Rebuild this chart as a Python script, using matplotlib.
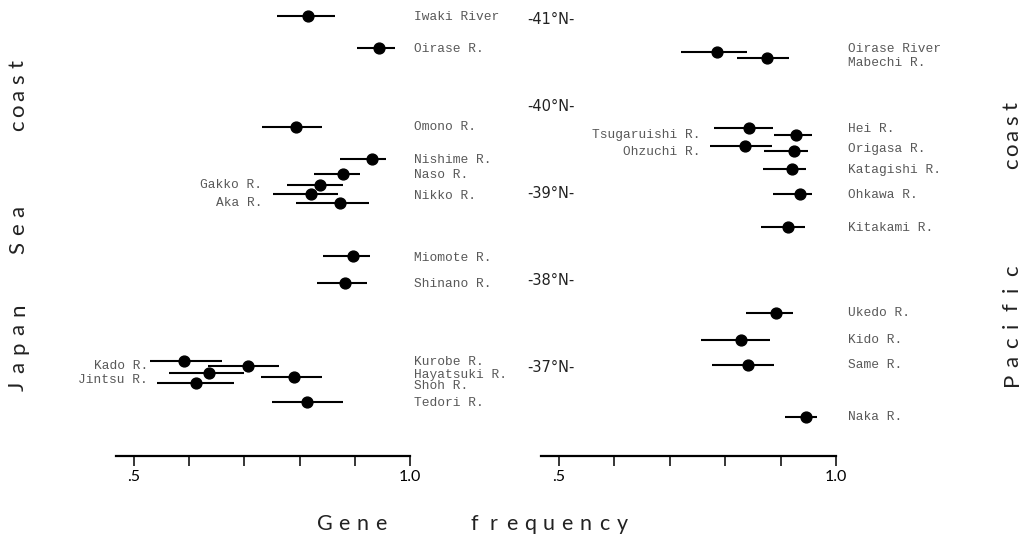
import numpy as np
import matplotlib
matplotlib.use("Agg")
import matplotlib.pyplot as plt
from matplotlib.transforms import blended_transform_factory

# Sea of Japan coast rivers
jp_names = ["Iwaki River", "Oirase R.", "Omono R.", "Nishime R.", "Naso R.",
            "Gakko R.", "Nikko R.", "Aka R.", "Miomote R.", "Shinano R.",
            "Kado R.", "Kurobe R.", "Hayatsuki R.", "Shoh R.", "Jintsu R.", "Tedori R."]
jp_freq = [0.815, 0.944, 0.793, 0.931, 0.879, 0.837, 0.821, 0.873, 0.897, 0.882,
           0.591, 0.707, 0.636, 0.790, 0.612, 0.813]
jp_lo = [0.759, 0.904, 0.732, 0.873, 0.826, 0.777, 0.752, 0.793, 0.842, 0.832,
         0.529, 0.634, 0.563, 0.730, 0.542, 0.750]
jp_hi = [0.864, 0.973, 0.841, 0.957, 0.909, 0.879, 0.870, 0.926, 0.928, 0.922,
         0.659, 0.763, 0.699, 0.841, 0.681, 0.879]
jp_lat = [41.03, 40.67, 39.76, 39.40, 39.22, 39.10, 38.99, 38.89, 38.28, 37.97,
          37.08, 37.02, 36.94, 36.89, 36.83, 36.61]

# Pacific coast rivers
pa_names = ["Oirase River", "Mabechi R.", "Hei R.", "Tsugaruishi R.", "Origasa R.",
            "Ohzuchi R.", "Katagishi R.", "Ohkawa R.", "Kitakami R.", "Ukedo R.",
            "Kido R.", "Same R.", "Naka R."]
pa_freq = [0.785, 0.875, 0.843, 0.928, 0.836, 0.924, 0.921, 0.935, 0.913, 0.892,
           0.829, 0.841, 0.946]
pa_lo = [0.720, 0.821, 0.780, 0.888, 0.773, 0.870, 0.868, 0.886, 0.865, 0.838,
         0.756, 0.776, 0.908]
pa_hi = [0.839, 0.915, 0.886, 0.957, 0.884, 0.949, 0.946, 0.957, 0.944, 0.922,
         0.881, 0.888, 0.966]
pa_lat = [40.62, 40.55, 39.75, 39.67, 39.54, 39.49, 39.28, 38.99, 38.62, 37.63,
          37.32, 37.03, 36.44]

lat_ticks = [41, 40, 39, 38, 37]
x_ticks = [0.5, 0.6, 0.7, 0.8, 0.9, 1.0]
x_ticklabels = [".5", "", "", "", "", "1.0"]

# where each name is written (latitude of the text line), and which side
jp_text_lat = [41.02, 40.66, 39.76, 39.38, 39.21, 39.10, 38.97, 38.89, 38.26, 37.96,
               37.02, 37.07, 36.92, 36.79, 36.86, 36.60]
jp_left = {"Gakko R.": 0.732, "Aka R.": 0.732, "Kado R.": 0.525, "Jintsu R.": 0.525}
pa_text_lat = [40.655, 40.50, 39.74, 39.67, 39.51, 39.48, 39.27, 38.98, 38.60, 37.63,
               37.32, 37.03, 36.44]
pa_left = {"Tsugaruishi R.": 0.755, "Ohzuchi R.": 0.755}

W, H = 1026, 535
fig = plt.figure(figsize=(W / 100, H / 100), dpi=100)

mono = "Liberation Mono"
sans = "Lato"
txt_col = "#585858"
ylim = (35.99, 41.218)


def panel(x0, x1, names, freq, lo, hi, lat, text_lat, left, right_x):
    ax = fig.add_axes([x0 / W, 1 - 456 / H, (x1 - x0) / W, 456 / H])
    ax.set_xlim(0.4674, 1.0)
    ax.set_ylim(*ylim)
    freq = np.array(freq)
    err = [freq - np.array(lo), np.array(hi) - freq]
    ax.errorbar(freq, lat, xerr=err, fmt="o", color="black", ms=7.8,
                elinewidth=1.5, capsize=0, clip_on=False)
    for n, tl in zip(names, text_lat):
        if n in left:
            ax.text(left[n], tl, n, ha="right", va="center", family=mono,
                    fontsize=9.3, color=txt_col, clip_on=False)
        else:
            ax.text(right_x, tl, n, ha="left", va="center", family=mono,
                    fontsize=9.3, color=txt_col, clip_on=False)
    for s in ["top", "left", "right"]:
        ax.spines[s].set_visible(False)
    ax.spines["bottom"].set_linewidth(1.6)
    ax.set_yticks([])
    ax.set_xticks(x_ticks)
    ax.set_xticklabels(x_ticklabels, fontsize=11.5, family=sans)
    ax.tick_params(axis="x", direction="out", length=7, width=1.1, pad=3)
    ax.patch.set_alpha(0)
    return ax


ax_l = panel(116, 410, jp_names, jp_freq, jp_lo, jp_hi, jp_lat, jp_text_lat,
             jp_left, 1.007)
ax_r = panel(541, 836, pa_names, pa_freq, pa_lo, pa_hi, pa_lat, pa_text_lat,
             pa_left, 1.022)

# latitude marks between the panels
tr = blended_transform_factory(fig.transFigure, ax_r.transData)
for lt in lat_ticks:
    ax_r.text(551 / W, lt, "-%d\u00b0N-" % lt, transform=tr, ha="center",
              va="center", fontsize=10.5, color="#222222", clip_on=False)


def spaced(word, x, y, pitch, vertical=False):
    # letters one by one, so the wide tracking of the titles can be kept
    for i, ch in enumerate(word):
        if vertical:
            fig.text(x / W, 1 - (y - i * pitch) / H, ch, rotation=90,
                     ha="center", va="center", family=sans, fontsize=16,
                     color="#222222")
        else:
            fig.text((x + i * pitch) / W, 1 - y / H, ch, ha="center",
                     va="center", family=sans, fontsize=15.5, color="#222222")


spaced("Japan", 18, 386, 19, vertical=True)
spaced("Sea", 18, 248, 18.5, vertical=True)
spaced("coast", 18, 126, 15.5, vertical=True)
spaced("Pacific", 1012, 379, 18, vertical=True)
spaced("coast", 1012, 164, 14.5, vertical=True)
spaced("Gene", 325, 524, 18.7)
spaced("frequency", 474.5, 524, 18.5)

fig.savefig("out.png", dpi=100, facecolor="white")
